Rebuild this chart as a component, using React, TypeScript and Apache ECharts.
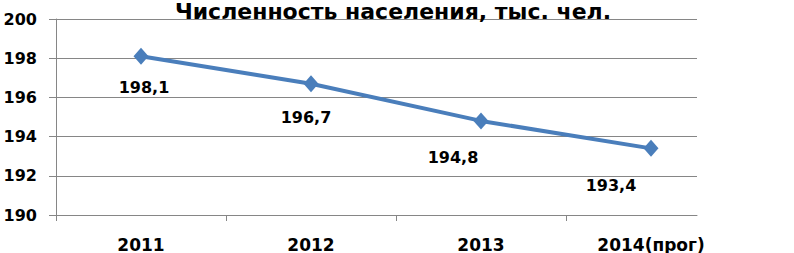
import React, { useEffect, useRef } from "react";
import * as echarts from "echarts";

const categories = ["2011", "2012", "2013", "2014(прог)"];
const population = [198.1, 196.7, 194.8, 193.4];
const yTicks = [190, 192, 194, 196, 198, 200];
const titleText = "Численность населения, тыс. чел.";

// label placement (style only)
const labelOffsets: [number, number][] = [
  [3, 31],
  [-5, 34],
  [-28, 37],
  [-40, 37],
];

const FONT = "'DejaVu Sans', sans-serif";
const GRID_LEFT = 56;
const GRID_WIDTH = 641;
const BAND = 170;

export default function App() {
  const ref = useRef<HTMLDivElement>(null);
  useEffect(() => {
    document.body.style.margin = "0";
    if (!ref.current) return;
    const chart = echarts.init(ref.current, undefined, { renderer: "svg" });
    const xMin = -0.5;
    const xMax = -0.5 + GRID_WIDTH / BAND;
    chart.setOption({
      animation: false,
      backgroundColor: "#ffffff",
      graphic: [
        {
          type: "text",
          x: 393,
          y: 11,
          style: {
            text: titleText,
            fill: "#000",
            font: `bold 22px ${FONT}`,
            align: "center",
            verticalAlign: "middle",
          },
          z: 10,
        },
      ],
      grid: { left: GRID_LEFT, top: 19, width: GRID_WIDTH, height: 196 },
      xAxis: {
        type: "value",
        min: xMin,
        max: xMax,
        axisLine: { show: true, onZero: false, lineStyle: { color: "#868686", width: 1 } },
        splitLine: { show: false },
        axisTick: {
          show: true,
          length: 6,
          customValues: categories.map((_, i) => i - 0.5),
          lineStyle: { color: "#868686" },
        },
        axisLabel: {
          customValues: categories.map((_, i) => i),
          formatter: (v: number) => categories[Math.round(v)] ?? "",
          color: "#000",
          fontFamily: FONT,
          fontWeight: "bold",
          fontSize: 17,
          margin: 21,
        },
      },
      yAxis: {
        type: "value",
        min: yTicks[0],
        max: yTicks[yTicks.length - 1],
        interval: yTicks[1] - yTicks[0],
        axisLine: { show: true, onZero: false, lineStyle: { color: "#868686", width: 1 } },
        axisTick: { show: true, length: 7, lineStyle: { color: "#868686" } },
        splitLine: { show: true, lineStyle: { color: "#868686", width: 1 } },
        axisLabel: {
          color: "#000",
          fontFamily: FONT,
          fontWeight: "bold",
          fontSize: 16,
          margin: 19,
        },
      },
      series: [
        {
          type: "line",
          data: population.map((v, i) => ({
            value: [i, v],
            label: { offset: labelOffsets[i] },
          })),
          lineStyle: { color: "#4A7EBB", width: 4 },
          itemStyle: { color: "#4A7EBB" },
          symbol: "diamond",
          symbolSize: [15, 17],
          label: {
            show: true,
            position: "inside",
            formatter: (p: any) => String(p.value[1]).replace(".", ","),
            color: "#000",
            fontFamily: FONT,
            fontWeight: "bold",
            fontSize: 16,
          },
        },
      ],
    });
    return () => chart.dispose();
  }, []);
  return <div ref={ref} style={{ width: 794, height: 253 }} />;
}
